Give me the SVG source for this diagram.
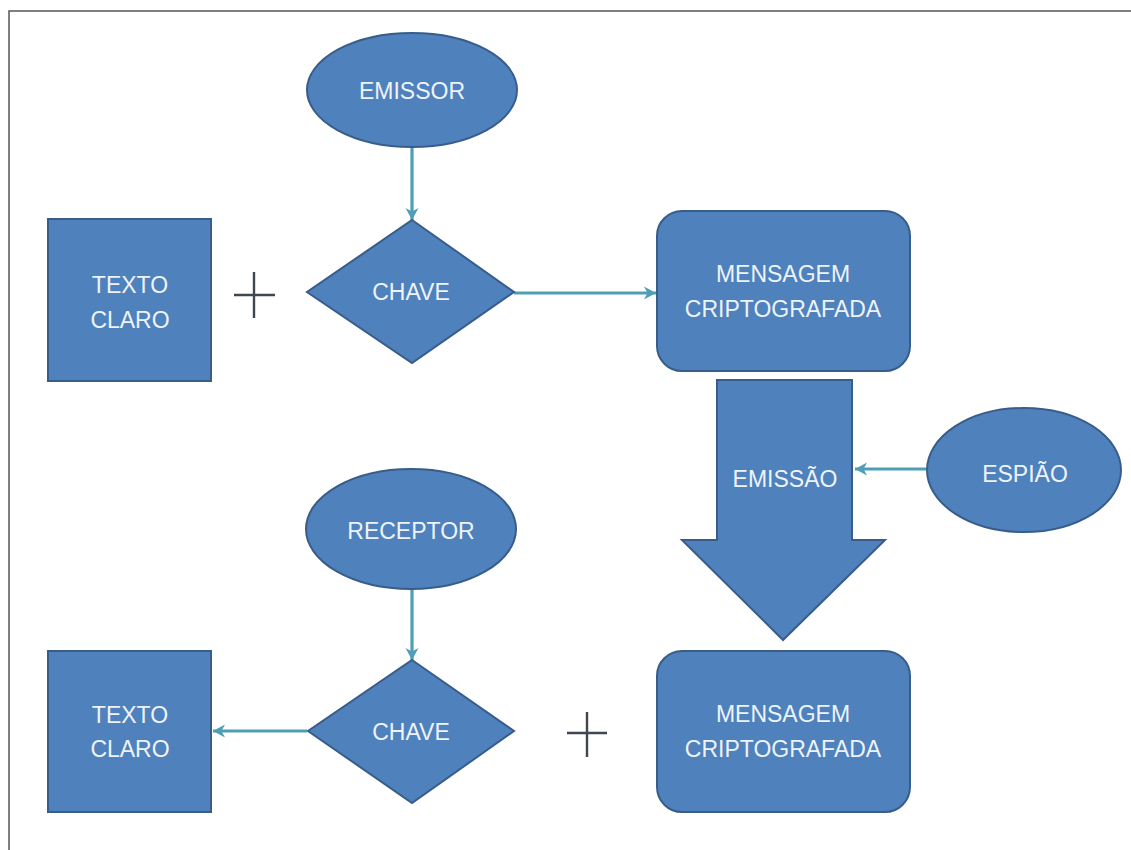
<svg xmlns="http://www.w3.org/2000/svg" width="1131" height="850" viewBox="0 0 1131 850">
  <style>
    .shape { fill: #4F81BD; stroke: #385D8A; stroke-width: 2; }
    .lbl { font-family: "Liberation Sans", Arial, sans-serif; font-size: 23px; fill: #EEF3F9; text-anchor: middle; }
    .conn { stroke: #4E9FB6; stroke-width: 3.2; fill: none; marker-end: url(#ah); }
    .plus { stroke: #3F4650; stroke-width: 2.4; }
  </style>
  <defs>
    <marker id="ah" markerUnits="userSpaceOnUse" markerWidth="16" markerHeight="16" refX="13" refY="8" orient="auto">
      <path d="M1,1.5 L13,8 L1,14.5 L4.5,8 Z" fill="#4E9FB6"/>
    </marker>
  </defs>
  <rect x="0" y="0" width="1131" height="850" fill="#FFFFFF"/>
  <g id="frame" stroke="#555555" stroke-width="1.5" fill="none">
    <path d="M9,850 L9,11 L1131,11"/>
  </g>

  <g id="connectors">
    <line class="conn" x1="412" y1="148" x2="412" y2="220"/>
    <line class="conn" x1="514" y1="293" x2="656" y2="293"/>
    <line class="conn" x1="926" y1="469" x2="855" y2="469"/>
    <line class="conn" x1="412" y1="590" x2="412" y2="660"/>
    <line class="conn" x1="307" y1="731" x2="213" y2="731"/>
  </g>

  <g id="emissor">
    <ellipse class="shape" cx="412" cy="90" rx="105" ry="57"/>
    <text class="lbl" x="412" y="99">EMISSOR</text>
  </g>
  <g id="texto-claro-1">
    <rect class="shape" x="48" y="219" width="163" height="162"/>
    <text class="lbl" x="130" y="293">TEXTO</text>
    <text class="lbl" x="130" y="328">CLARO</text>
  </g>
  <g id="plus-1">
    <line class="plus" x1="234" y1="295" x2="275" y2="295"/>
    <line class="plus" x1="254" y1="272" x2="254" y2="318"/>
  </g>
  <g id="chave-1">
    <polygon class="shape" points="412,220 514,292 412,363 307,292"/>
    <text class="lbl" x="411" y="300">CHAVE</text>
  </g>
  <g id="mensagem-1">
    <rect class="shape" x="657" y="211" width="253" height="160" rx="25" ry="25"/>
    <text class="lbl" x="783" y="282">MENSAGEM</text>
    <text class="lbl" x="783" y="317">CRIPTOGRAFADA</text>
  </g>
  <g id="emissao">
    <polygon class="shape" points="717,380 852,380 852,540 885,540 783,640 682,540 717,540"/>
    <text class="lbl" x="785" y="487">EMISSÃO</text>
  </g>
  <g id="espiao">
    <ellipse class="shape" cx="1024" cy="470" rx="97" ry="62"/>
    <text class="lbl" x="1025" y="482">ESPIÃO</text>
  </g>
  <g id="receptor">
    <ellipse class="shape" cx="411" cy="529" rx="105" ry="60"/>
    <text class="lbl" x="411" y="539">RECEPTOR</text>
  </g>
  <g id="texto-claro-2">
    <rect class="shape" x="48" y="651" width="163" height="161"/>
    <text class="lbl" x="130" y="723">TEXTO</text>
    <text class="lbl" x="130" y="757">CLARO</text>
  </g>
  <g id="chave-2">
    <polygon class="shape" points="412,660 514,731 412,803 308,731"/>
    <text class="lbl" x="411" y="740">CHAVE</text>
  </g>
  <g id="plus-2">
    <line class="plus" x1="567" y1="733" x2="607" y2="733"/>
    <line class="plus" x1="587" y1="712" x2="587" y2="757"/>
  </g>
  <g id="mensagem-2">
    <rect class="shape" x="657" y="651" width="253" height="161" rx="25" ry="25"/>
    <text class="lbl" x="783" y="722">MENSAGEM</text>
    <text class="lbl" x="783" y="757">CRIPTOGRAFADA</text>
  </g>
</svg>
